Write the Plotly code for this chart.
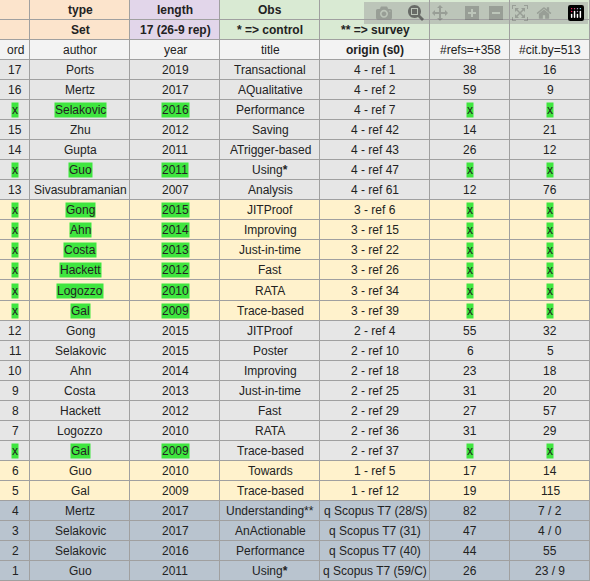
import plotly.graph_objects as go

# column edges (px in the sheet) and headers
col_edges = [0, 30, 130, 220, 320, 430, 510, 590]
head1 = ["", "type", "length", "Obs", "", "", ""]
head2 = ["", "Set", "17 (26-9 rep)", "* => control", "** => survey", "", ""]
head3 = ["ord", "author", "year", "title", "origin (s0)", "#refs=+358", "#cit.by=513"]

ords = ["17", "16", "x", "15", "14", "x", "13", "x", "x", "x", "x", "x", "x",
        "12", "11", "10", "9", "8", "7", "x", "6", "5", "4", "3", "2", "1"]
authors = ["Ports", "Mertz", "Selakovic", "Zhu", "Gupta", "Guo", "Sivasubramanian",
           "Gong", "Ahn", "Costa", "Hackett", "Logozzo", "Gal",
           "Gong", "Selakovic", "Ahn", "Costa", "Hackett", "Logozzo", "Gal",
           "Guo", "Gal", "Mertz", "Selakovic", "Selakovic", "Guo"]
years = ["2019", "2017", "2016", "2012", "2011", "2011", "2007",
         "2015", "2014", "2013", "2012", "2010", "2009",
         "2015", "2015", "2014", "2013", "2012", "2010", "2009",
         "2010", "2009", "2017", "2017", "2016", "2011"]
titles = ["Transactional", "AQualitative", "Performance", "Saving", "ATrigger-based",
          "Using<b>*</b>", "Analysis",
          "JITProof", "Improving", "Just-in-time", "Fast", "RATA", "Trace-based",
          "JITProof", "Poster", "Improving", "Just-in-time", "Fast", "RATA", "Trace-based",
          "Towards", "Trace-based", "Understanding**", "AnActionable", "Performance",
          "Using<b>*</b>"]
origins = ["4 - ref 1", "4 - ref 2", "4 - ref 7", "4 - ref 42", "4 - ref 43", "4 - ref 47",
           "4 - ref 61", "3 - ref 6", "3 - ref 15", "3 - ref 22", "3 - ref 26", "3 - ref 34",
           "3 - ref 39", "2 - ref 4", "2 - ref 10", "2 - ref 18", "2 - ref 25", "2 - ref 29",
           "2 - ref 36", "2 - ref 37", "1 - ref 5", "1 - ref 12",
           "q Scopus T7 (28/S)", "q Scopus T7 (31)", "q Scopus T7 (40)", "q Scopus T7 (59/C)"]
refs = ["38", "59", "x", "14", "26", "x", "12", "x", "x", "x", "x", "x", "x",
        "55", "6", "23", "31", "27", "31", "x", "17", "19", "82", "47", "44", "26"]
cits = ["16", "9", "x", "21", "12", "x", "76", "x", "x", "x", "x", "x", "x",
        "32", "5", "18", "20", "57", "29", "x", "14", "115", "7 / 2", "4 / 0", "55", "23 / 9"]
# row group: 0 grey, 1 yellow, 2 blue-grey
groups = [0] * 7 + [1] * 6 + [0] * 7 + [1] * 2 + [2] * 4

palette = ["#e6e6e6", "#fff2cc", "#b9c4cf", "#fce4cc", "#e2d6ea", "#d9ead3", "#f3f3f3"]
head_codes = [3, 3, 4, 5, 5, 5, 5]

z, text_rows = [], []
z.append(head_codes); text_rows.append(head1)
z.append(head_codes); text_rows.append(head2)
z.append([6] * 7); text_rows.append(head3)
for i in range(len(ords)):
    z.append([groups[i]] * 7)
    text_rows.append([ords[i], authors[i], years[i], titles[i], origins[i], refs[i], cits[i]])

n = len(z)
y_edges = list(range(n + 1))
cs = []
for k, c in enumerate(palette):
    cs.append([k / len(palette), c])
    cs.append([(k + 1) / len(palette), c])

fig = go.Figure(go.Heatmap(z=z, x=col_edges, y=y_edges, colorscale=cs, zmin=0,
                           zmax=len(palette), showscale=False, xgap=1, ygap=1,
                           hoverinfo="skip"))

anns = []
for r, row in enumerate(text_rows):
    hl = r >= 3 and ords[r - 3] == "x"
    for c, t in enumerate(row):
        if t == "":
            continue
        bold = r < 2 or (r == 2 and c == 4)
        anns.append(dict(x=(col_edges[c] + col_edges[c + 1]) / 2, y=r + 0.5,
                         xref="x", yref="y", showarrow=False,
                         text=f"<b>{t}</b>" if bold else t,
                         font=dict(size=12, color="#222"),
                         bgcolor="#3fe63f" if hl and c in (0, 1, 2, 5, 6) else None,
                         borderpad=0))

fig.update_layout(width=590, height=581, margin=dict(l=0, r=0, t=0, b=0),
                  plot_bgcolor="#a0a0a0", paper_bgcolor="#a0a0a0",
                  font=dict(family="Liberation Sans, Arial"), annotations=anns,
                  xaxis=dict(range=[0, 590], visible=False),
                  yaxis=dict(range=[n, 0], visible=False))
fig.write_html("out.html",
               post_script="document.body.style.margin='0';document.body.style.overflow='hidden';")
